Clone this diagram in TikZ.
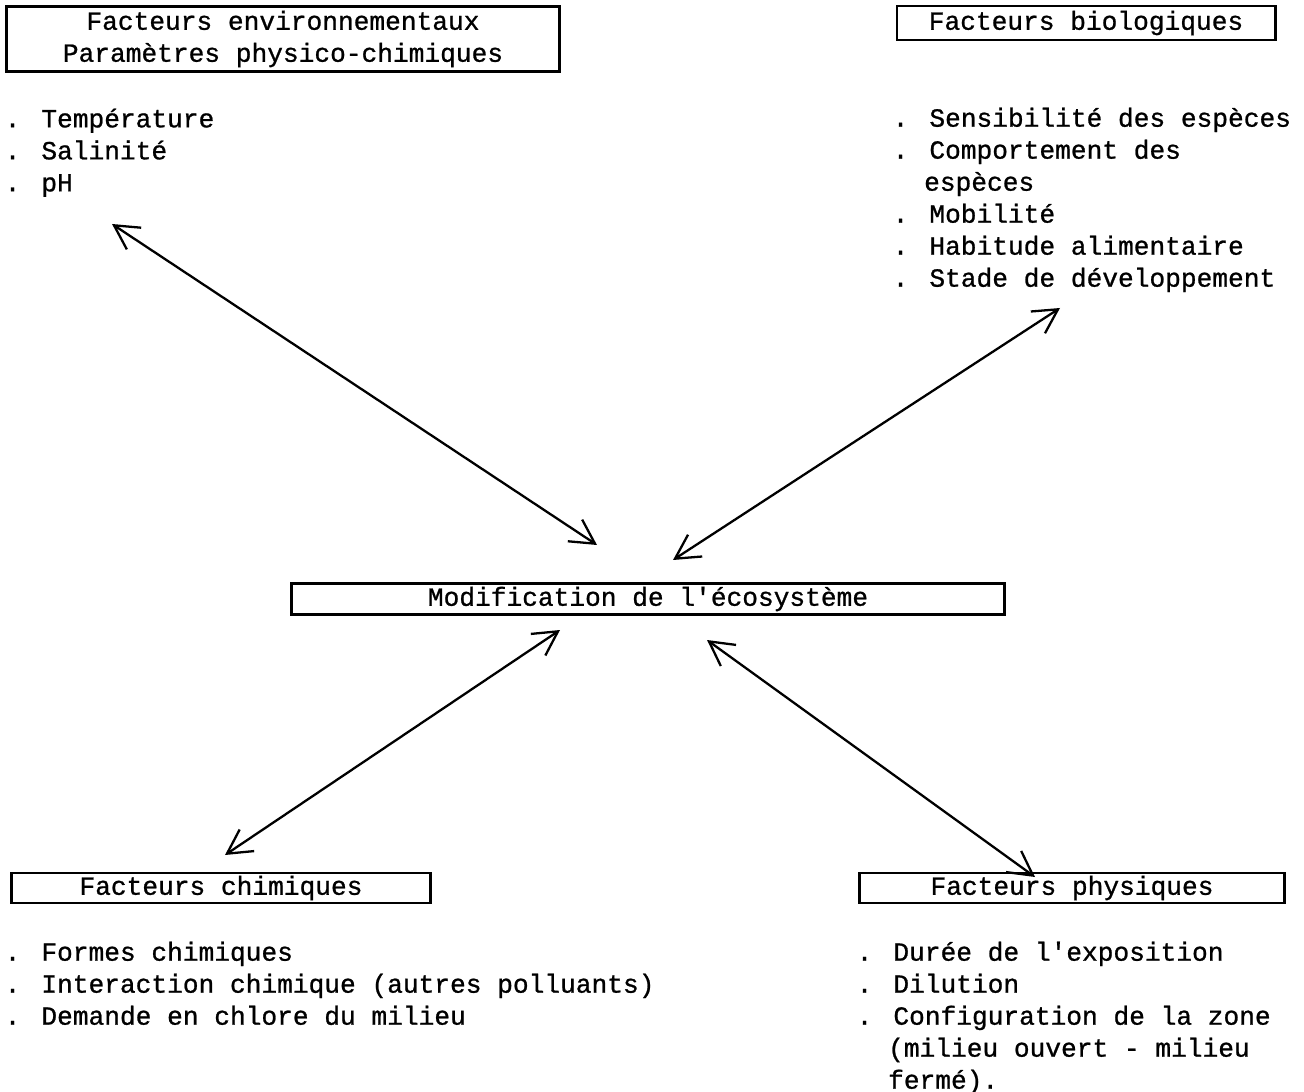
\documentclass[tikz,border=0pt]{standalone}
\usepackage{fontspec}
\newfontfamily\mono[FakeBold=0.9]{Liberation Mono}
\usepackage{tikz}
\usetikzlibrary{arrows.meta,positioning}

\begin{document}
\begin{tikzpicture}[
      x=0.01cm, y=-0.01cm,
      hbox/.style={draw, line width=0.8pt, inner sep=0pt, align=center,
                   font=\mono\fontsize{7.45}{9.1}\selectfont},
      items/.style={anchor=north west, inner sep=0pt, align=left,
                    font=\mono\fontsize{7.45}{9.1}\selectfont},
      link/.style={{Straight Barb[length=2.4mm,width=2.6mm]}-{Straight Barb[length=2.4mm,width=2.6mm]},
                   line width=0.65pt},
    ]
    \useasboundingbox (0,0) rectangle (1304,1092);
    % headings
    \node[hbox, minimum width=5.53cm, minimum height=0.65cm] (env) at (283,39)
         {Facteurs environnementaux\\ Param\`etres physico-chimiques};
    \node[hbox, minimum width=3.78cm, minimum height=0.34cm] (bio) at (1086,23) {Facteurs biologiques};
    \node[hbox, minimum width=7.13cm, minimum height=0.31cm] (modif) at (648,599) {Modification de l'\'ecosyst\`eme};
    \node[hbox, minimum width=4.18cm, minimum height=0.30cm] (chem) at (221,888) {Facteurs chimiques};
    \node[hbox, minimum width=4.25cm, minimum height=0.30cm] (phys) at (1072,888) {Facteurs physiques};

    % lists
    \node[items] (envlist) at (4,108) {. Temp\'erature\\ . Salinit\'e\\ . pH};
    \node[items] (biolist) at (892,107) {. Sensibilit\'e des esp\`eces\\ . Comportement des\\ \ \ esp\`eces\\
         . Mobilit\'e\\ . Habitude alimentaire\\ . Stade de d\'eveloppement};
    \node[items] (chemlist) at (4,941) {. Formes chimiques\\ . Interaction chimique (autres polluants)\\
         . Demande en chlore du milieu};
    \node[items] (physlist) at (856,941) {. Dur\'ee de l'exposition\\ . Dilution\\ . Configuration de la zone\\
         \ \ (milieu ouvert - milieu\\ \ \ ferm\'e).};

    % arrow ends
    \coordinate (envEnd) at (112,224);
    \coordinate (envMod) at (597,545);
    \coordinate (bioEnd) at (1060,308);
    \coordinate (bioMod) at (673,560);
    \coordinate (chemMod) at (560,630);
    \coordinate (chemEnd) at (225,855);
    \coordinate (physMod) at (707,640);
    \coordinate (physEnd) at (1035,877);

    \draw[link] (envEnd) -- (envMod);
    \draw[link] (bioEnd) -- (bioMod);
    \draw[link] (chemMod) -- (chemEnd);
    \draw[link] (physMod) -- (physEnd);
  \end{tikzpicture}
\end{document}
